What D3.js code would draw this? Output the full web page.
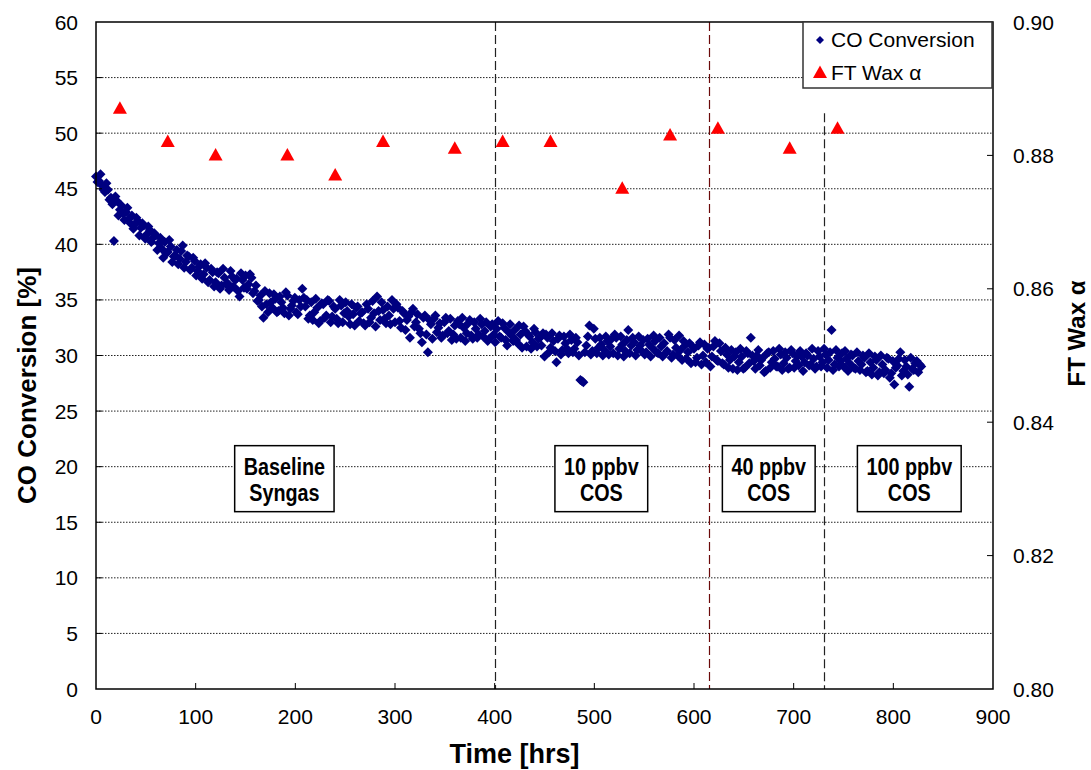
<!DOCTYPE html>
<html>
<head>
<meta charset="utf-8">
<script src="https://cdn.jsdelivr.net/npm/d3@7"></script>
<style>
  body { margin: 0; background: #fff; }
  text { font-family: Arial, "Liberation Sans", sans-serif; fill: #000; }
</style>
</head>
<body>
<div id="chart"></div>
<script>
// CO conversion [%], logged every 3 hours starting at t = 0
const coStartHr = 0, coStepHr = 3;
const coConversion = [
  46.1, 45.7, 45.3, 44.7, 44.9, 44.2, 40.3, 43.9, 43.1, 42.8,
  42.9, 42.3, 42.6, 41.8, 42.1, 41.5, 41.7, 40.9, 41.3, 40.6,
  40.8, 40.1, 39.6, 40.2, 39.3, 39.8, 38.9, 39.5, 38.7, 39.9,
  38.4, 38.9, 37.9, 38.5, 37.6, 38.2, 37.3, 37.9, 36.8, 37.5,
  36.6, 37.4, 36.3, 37.0, 36.5, 37.6, 36.2, 36.9, 35.3, 36.8,
  37.2, 36.4, 37.0, 35.8, 34.9, 35.4, 33.4, 34.6, 35.6, 34.3,
  35.1, 34.0, 34.8, 33.8, 35.4, 34.2, 34.9, 33.9, 35.0, 36.0,
  34.4, 33.3, 34.8, 33.9, 34.3, 33.1, 34.6, 33.6, 34.9, 33.5,
  34.2, 32.9, 34.5, 33.8, 34.0, 32.8, 33.7, 34.3, 33.1, 33.9,
  32.7, 34.2, 33.4, 33.8, 35.3, 33.2, 34.1, 32.9, 33.6, 35.0,
  33.0, 34.3, 32.5, 33.8, 33.2, 31.6, 34.2, 33.0, 32.4, 31.2,
  33.6, 30.3, 32.8, 33.3, 32.1, 32.9, 31.8, 33.4, 32.2, 31.4,
  32.7, 33.1, 31.6, 32.5, 32.0, 33.2, 31.5, 32.4, 31.9, 32.8,
  32.2, 31.3, 32.6, 31.9, 32.4, 31.7, 32.9, 31.4, 32.1, 31.8,
  32.3, 31.1, 31.9, 32.6, 30.8, 31.7, 31.2, 32.1, 31.5, 30.9,
  29.9, 31.6, 30.7, 31.3, 29.4, 31.8, 30.5, 31.1, 30.2, 31.4,
  30.6, 31.2, 27.8, 27.6, 30.9, 32.7, 30.4, 31.5, 30.7, 31.0,
  30.5, 31.3, 30.8, 30.2, 31.6, 30.6, 31.0, 30.4, 32.3, 30.9,
  31.2, 30.5, 30.9, 31.4, 30.3, 31.0, 30.7, 31.3, 30.2, 30.8,
  31.1, 30.4, 31.6, 30.1, 30.7, 31.8, 29.6, 30.9, 30.3, 29.3,
  30.6, 29.8, 31.2, 30.0, 29.4, 30.7, 29.9, 31.3, 29.5, 30.4,
  29.2, 30.1, 29.6, 28.8, 30.3, 29.4, 29.9, 28.9, 30.2, 31.6,
  29.5, 30.0, 29.1, 29.8, 28.6, 30.3, 29.4, 29.7, 29.0, 30.1,
  29.3, 29.8, 28.9, 30.2, 29.5, 29.1, 29.9, 29.4, 30.0, 29.2,
  29.7, 29.0, 29.9, 29.4, 30.1, 29.6, 32.3, 29.2, 29.8, 29.5,
  29.0, 29.7, 29.3, 30.0, 28.8, 29.5, 29.2, 29.8, 28.6, 29.4,
  28.9, 29.6, 28.5, 29.2, 28.7, 29.7, 28.4, 27.4, 29.1, 30.3,
  28.6, 29.0, 27.2, 28.8, 29.3, 28.5, 29.0
];

// second sample stream, every 3 hours starting at t = 1.5
const coStartHrB = 1.5;
const coConversionB = [
  45.6, 46.3, 44.9, 45.5, 44.0, 43.6, 44.3, 42.6, 43.5, 42.2,
  43.3, 41.9, 41.4, 42.4, 40.8, 41.9, 40.5, 41.6, 40.2, 41.0,
  39.5, 40.6, 38.8, 39.2, 40.4, 38.4, 39.0, 38.2, 39.4, 37.9,
  39.0, 37.7, 38.8, 37.2, 38.0, 36.9, 38.3, 36.6, 37.8, 36.2,
  37.5, 36.0, 37.8, 36.4, 35.9, 37.1, 36.8, 35.8, 37.4, 36.1,
  36.0, 37.3, 35.6, 36.3, 35.0, 34.4, 35.8, 33.9, 34.8, 35.5,
  33.9, 35.3, 34.3, 35.7, 33.6, 34.5, 35.2, 33.7, 34.4, 35.2,
  35.0, 33.6, 33.2, 35.1, 32.9, 34.7, 33.4, 35.0, 33.0, 34.4,
  33.3, 35.0, 33.0, 34.8, 33.5, 34.6, 32.7, 34.4, 33.8, 32.9,
  34.6, 33.0, 34.9, 32.6, 34.0, 34.8, 33.3, 34.4, 32.8, 34.2,
  34.6, 33.1, 34.0, 32.3, 33.5, 33.9, 32.6, 33.7, 32.0, 33.4,
  31.9, 33.2, 31.5, 33.6, 32.5, 31.6, 33.0, 32.0, 33.3, 31.9,
  31.5, 32.8, 33.4, 31.3, 32.9, 31.8, 33.0, 31.6, 33.3, 31.7,
  33.0, 31.5, 32.8, 31.2, 33.1, 31.6, 32.5, 30.9, 32.8, 31.3,
  31.4, 32.7, 30.7, 32.2, 31.9, 30.6, 32.4, 30.8, 31.6, 32.0,
  31.9, 30.3, 32.0, 30.4, 31.5, 30.1, 31.7, 30.6, 31.9, 30.3,
  31.6, 30.0, 27.7, 30.3, 31.7, 30.1, 32.4, 30.2, 31.6, 30.0,
  31.7, 30.1, 31.5, 31.9, 30.0, 31.7, 29.9, 31.4, 30.2, 31.6,
  30.0, 31.7, 30.4, 30.1, 31.5, 29.9, 31.8, 30.3, 31.6, 29.9,
  30.2, 31.9, 29.8, 31.4, 30.0, 30.5, 31.3, 29.7, 31.1, 30.8,
  29.4, 30.9, 29.2, 31.0, 30.6, 29.0, 30.8, 29.6, 31.1, 29.3,
  30.7, 28.9, 30.5, 29.9, 28.7, 30.6, 28.8, 30.4, 29.3, 30.0,
  28.8, 30.5, 29.6, 28.5, 30.2, 28.9, 30.4, 29.0, 30.6, 28.7,
  30.3, 28.8, 30.5, 28.9, 29.9, 30.4, 28.6, 30.2, 29.1, 30.6,
  28.8, 30.4, 29.0, 30.6, 28.9, 30.3, 28.7, 30.5, 29.0, 30.2,
  30.4, 28.6, 30.1, 28.9, 30.3, 28.7, 30.0, 28.5, 30.2, 28.3,
  29.9, 28.2, 30.0, 28.4, 29.8, 28.0, 29.5, 28.9, 29.7, 28.2,
  29.6, 28.3, 29.8, 28.7, 29.5, 29.2
];

// FT wax alpha (right axis)
const waxTime  = [24, 72, 120, 192, 240, 288, 360, 408, 456, 528, 576, 624, 696, 744];
const waxAlpha = [0.887, 0.882, 0.880, 0.880, 0.877, 0.882, 0.881, 0.882, 0.882, 0.875, 0.883, 0.884, 0.881, 0.884];

// tick labels
const xTicks = [0, 100, 200, 300, 400, 500, 600, 700, 800, 900];
const leftTicks = [0, 5, 10, 15, 20, 25, 30, 35, 40, 45, 50, 55, 60];
const rightTicks = [0.80, 0.82, 0.84, 0.86, 0.88, 0.90];

// feed changes and phase labels
const phaseTimes = [400, 615, 730];
const phaseLabels = [["Baseline", "Syngas"], ["10 ppbv", "COS"], ["40 ppbv", "COS"], ["100 ppbv", "COS"]];
const phaseLabelTimes = [189, 507, 675, 816];

const width = 1091, height = 770;
const margin = {left: 96, right: 98, top: 22, bottom: 81};

const svg = d3.select("#chart").append("svg")
    .attr("width", width)
    .attr("height", height);

const x = d3.scaleLinear().domain([0, 900]).range([margin.left, width - margin.right]);
const y = d3.scaleLinear().domain([0, 60]).range([height - margin.bottom, margin.top]);
const y2 = d3.scaleLinear().domain([0.80, 0.90]).range([height - margin.bottom, margin.top]);

const x0 = x(0), x1 = x(900), yb = y(0), yt = y(60);

// dotted gridlines
svg.append("g")
    .selectAll("line")
    .data(leftTicks.filter(d => d > 0 && d < 60))
    .join("line")
    .attr("x1", x0).attr("x2", x1)
    .attr("y1", d => y(d)).attr("y2", d => y(d))
    .attr("stroke", "#222")
    .attr("stroke-width", 1)
    .attr("stroke-dasharray", "1.5,1.5");

// phase change lines
const lineColors = ["#222", "#6b0a0a", "#222"];
svg.append("g")
    .selectAll("line")
    .data(phaseTimes)
    .join("line")
    .attr("x1", d => Math.round(x(d)) + 0.5).attr("x2", d => Math.round(x(d)) + 0.5)
    .attr("y1", (d, i) => i === 2 ? y(51.8) : yt)
    .attr("y2", yb)
    .attr("stroke", (d, i) => lineColors[i])
    .attr("stroke-width", 1.2)
    .attr("stroke-dasharray", "9,4");

// phase label boxes (narrow bold text)
const squeeze = 0.86;
const boxes = svg.append("g")
    .selectAll("g")
    .data(phaseLabels)
    .join("g")
    .attr("transform", (d, i) => `translate(${x(phaseLabelTimes[i])},${y(20)})`);

boxes.each(function (d) {
    const g = d3.select(this);
    const t = g.append("text")
        .attr("text-anchor", "middle")
        .attr("transform", `scale(${squeeze},1)`)
        .style("font-size", "23px")
        .style("font-weight", "bold");
    t.append("tspan").attr("x", 0).attr("y", 8).text(d[0]);
    t.append("tspan").attr("x", 0).attr("y", 34).text(d[1]);
    const w = t.node().getBBox().width * squeeze + 18;
    g.insert("rect", "text")
        .attr("x", -w / 2).attr("y", -21)
        .attr("width", w).attr("height", 66)
        .attr("fill", "#fff")
        .attr("stroke", "#000")
        .attr("stroke-width", 1.5);
});

// CO conversion scatter
const diamond = "M0,-5L5,0L0,5L-5,0Z";
const coPoints = coConversion.map((v, i) => [coStartHr + i * coStepHr, v])
    .concat(coConversionB.map((v, i) => [coStartHrB + i * coStepHr, v]));
svg.append("g")
    .selectAll("path")
    .data(coPoints)
    .join("path")
    .attr("d", diamond)
    .attr("transform", d => `translate(${x(d[0])},${y(d[1])})`)
    .attr("fill", "#000080");

// FT wax alpha triangles
const triangle = "M0,-7.5L7,5L-7,5Z";
svg.append("g")
    .selectAll("path")
    .data(waxAlpha)
    .join("path")
    .attr("d", triangle)
    .attr("transform", (d, i) => `translate(${x(waxTime[i])},${y2(d)})`)
    .attr("fill", "#ff0000");

// plot frame
svg.append("rect")
    .attr("x", x0).attr("y", yt)
    .attr("width", x1 - x0).attr("height", yb - yt)
    .attr("fill", "none")
    .attr("stroke", "#000")
    .attr("stroke-width", 1.5);

// inside ticks
const tickLen = 6;
svg.append("g").selectAll("line").data(xTicks.slice(1, -1)).join("line")
    .attr("x1", d => x(d)).attr("x2", d => x(d))
    .attr("y1", yb).attr("y2", yb - tickLen)
    .attr("stroke", "#000");
svg.append("g").selectAll("line").data(leftTicks.slice(1, -1)).join("line")
    .attr("x1", x0).attr("x2", x0 + tickLen)
    .attr("y1", d => y(d)).attr("y2", d => y(d))
    .attr("stroke", "#000");
svg.append("g").selectAll("line").data(rightTicks.slice(1, -1)).join("line")
    .attr("x1", x1).attr("x2", x1 - tickLen)
    .attr("y1", d => y2(d)).attr("y2", d => y2(d))
    .attr("stroke", "#000");

// tick labels
svg.append("g").selectAll("text").data(xTicks).join("text")
    .attr("x", d => x(d)).attr("y", yb + 35)
    .attr("text-anchor", "middle")
    .style("font-size", "21px")
    .text(d => d);
svg.append("g").selectAll("text").data(leftTicks).join("text")
    .attr("x", x0 - 18).attr("y", d => y(d) + 7.5)
    .attr("text-anchor", "end")
    .style("font-size", "21px")
    .text(d => d);
svg.append("g").selectAll("text").data(rightTicks).join("text")
    .attr("x", x1 + 20).attr("y", d => y2(d) + 7.5)
    .attr("text-anchor", "start")
    .style("font-size", "21px")
    .text(d => d3.format(".2f")(d));

// axis titles
svg.append("text")
    .attr("x", (x0 + x1) / 2 - 30).attr("y", 763)
    .attr("text-anchor", "middle")
    .style("font-size", "27px").style("font-weight", "bold")
    .text("Time [hrs]");
svg.append("text")
    .attr("transform", `translate(36,${(yt + yb) / 2 + 30}) rotate(-90)`)
    .attr("text-anchor", "middle")
    .style("font-size", "26px").style("font-weight", "bold")
    .text("CO Conversion [%]");
svg.append("text")
    .attr("transform", `translate(1085,${(yt + yb) / 2 - 22}) rotate(-90)`)
    .attr("text-anchor", "middle")
    .style("font-size", "24px").style("font-weight", "bold")
    .text("FT Wax α");

// legend
const legend = svg.append("g").attr("transform", `translate(803,22)`);
legend.append("rect")
    .attr("width", 189).attr("height", 66)
    .attr("fill", "#fff")
    .attr("stroke", "#333")
    .attr("stroke-width", 1.5);
legend.append("path").attr("d", "M0,-4L4,0L0,4L-4,0Z")
    .attr("transform", "translate(17,18)").attr("fill", "#000080");
legend.append("text").attr("x", 28).attr("y", 25)
    .style("font-size", "21px").text("CO Conversion");
legend.append("path").attr("d", triangle)
    .attr("transform", "translate(17,51)").attr("fill", "#ff0000");
legend.append("text").attr("x", 28).attr("y", 58)
    .style("font-size", "21px").text("FT Wax α");
</script>
</body>
</html>
